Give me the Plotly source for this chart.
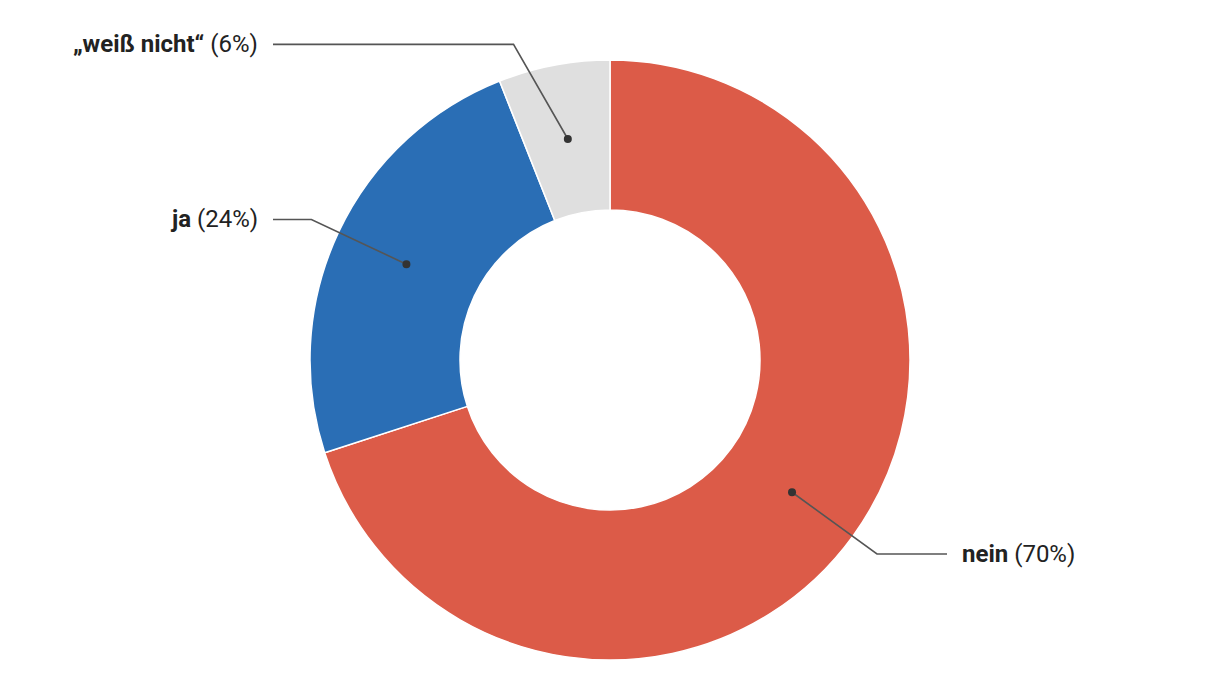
import math
import plotly.graph_objects as go

# ---- data ----
categories = ["nein", "ja", "„weiß nicht“"]
values = [70, 24, 6]
colors = ["#DC5B48", "#2A6EB5", "#DFDFDF"]

# ---- layout config ----
W, H = 1220, 700
PAGE_OFFSET = 8            # browser default body margin
CX, CY = 610 - PAGE_OFFSET, 360 - PAGE_OFFSET   # pie centre (px in figure)
R_OUT = 300                # outer radius (px)
HOLE = 0.5
R_DOT = (R_OUT * (1 + HOLE)) / 2   # dot in the middle of the ring
R_ELBOW = 330
LINE_END = 337             # horizontal leader ends at CX +/- this
TEXT_GAP = 13
TOP_LIMIT = 44 - PAGE_OFFSET       # min y (px) for labels
elbow_angle_override = {"„weiß nicht“": 343}

def px2paper(x, y):
    return x / W, 1 - y / H

fig = go.Figure(go.Pie(
    labels=categories,
    values=values,
    marker=dict(colors=colors, line=dict(color="white", width=1.5)),
    hole=HOLE,
    sort=False,
    direction="clockwise",
    rotation=0,
    textinfo="none",
    hoverinfo="label+percent",
    domain=dict(x=[(CX - R_OUT) / W, (CX + R_OUT) / W],
                y=[1 - (CY + R_OUT) / H, 1 - (CY - R_OUT) / H]),
    showlegend=False,
))

shapes = []
annotations = []
total = sum(values)
cum = 0
for cat, v in zip(categories, values):
    mid = (cum + v / 2) / total * 360
    cum += v
    a = math.radians(mid)
    dx, dy = CX + R_DOT * math.sin(a), CY - R_DOT * math.cos(a)
    ea = math.radians(elbow_angle_override.get(cat, mid))
    ex, ey = CX + R_ELBOW * math.sin(ea), CY - R_ELBOW * math.cos(ea)
    ey = max(ey, TOP_LIMIT)
    right = math.sin(a) > 0
    hx = CX + LINE_END if right else CX - LINE_END
    pts = [(dx, dy), (ex, ey), (hx, ey)]
    path = "M " + " L ".join(f"{px2paper(x, y)[0]},{px2paper(x, y)[1]}" for x, y in pts)
    shapes.append(dict(type="path", xref="paper", yref="paper", path=path,
                       line=dict(color="#555555", width=1.6)))
    r = 4
    x0, y0 = px2paper(dx - r, dy + r)
    x1, y1 = px2paper(dx + r, dy - r)
    shapes.append(dict(type="circle", xref="paper", yref="paper",
                       x0=x0, y0=y0, x1=x1, y1=y1,
                       fillcolor="#333333", line=dict(color="#333333", width=0)))
    tx = hx + TEXT_GAP if right else hx - TEXT_GAP
    px, py = px2paper(tx, ey)
    pct = round(v / total * 100)
    annotations.append(dict(
        x=px, y=py, xref="paper", yref="paper",
        text=f"<b>{cat}</b> ({pct}%)", showarrow=False,
        xanchor="left" if right else "right", yanchor="middle",
        font=dict(family="Roboto", size=24, color="#222222"),
    ))

fig.update_layout(
    width=W, height=H,
    margin=dict(l=0, r=0, t=0, b=0),
    paper_bgcolor="white", plot_bgcolor="white",
    shapes=shapes, annotations=annotations,
)

fig.write_html("out.html")
